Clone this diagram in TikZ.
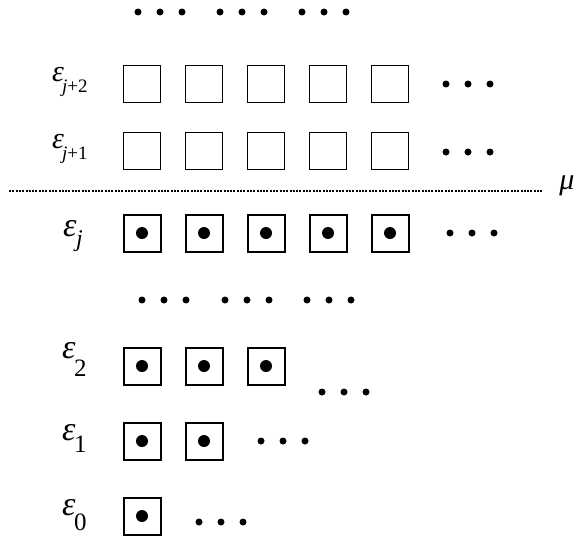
\documentclass[tikz,border=0pt]{standalone}
\usepackage{fontspec}
\setmainfont{Liberation Serif}
\usetikzlibrary{positioning}
% etiqueta de nivel: tam. eps, tam. subindice, desplazamiento, bajada, subindice
\newcommand{\etqniv}[5]{\rlap{\fontsize{#1}{#1}\selectfont\itshape ε}\hspace*{#3}\raisebox{-#4}{\fontsize{#2}{#2}\selectfont #5}}
\tikzset{
  celda/.style={draw=black,line width=1.4pt,minimum width=37pt,minimum height=37pt,inner sep=0pt},
  celdal/.style={celda,line width=2pt},
  etq/.style={inner sep=0pt,anchor=base west},
  punto/.style={fill=black},
  nivel/.style={line width=1.2pt,dash pattern=on 2pt off 1.3pt},
}
\begin{document}
\begin{tikzpicture}[x=1pt,y=-1pt]
\useasboundingbox (0,0) rectangle (583,536);

% niveles vacios
\node[etq] (ej2) at (52,81)  {\etqniv{30pt}{19pt}{10pt}{11pt}{\textit{j}+2}};
\node[etq] (ej1) at (52,148) {\etqniv{30pt}{19pt}{10pt}{11pt}{\textit{j}+1}};
\foreach \i/\x in {1/142,2/204,3/266,4/328,5/390}{
  \node[celda] (a\i) at (\x,84)  {};
  \node[celda] (b\i) at (\x,151) {};
}

% nivel de Fermi
\coordinate (mi) at (9,191);
\node[inner sep=0pt,font=\fontsize{30pt}{30pt}\selectfont\itshape] (mu) at (567,186) {μ};
\draw[nivel] (mi) -- (mi -| 542,0);

% niveles ocupados
\node[etq] (ej) at (63,236)  {\etqniv{34pt}{24pt}{13pt}{10pt}{\textit{j}}};
\node[etq] (e2) at (62,358)  {\etqniv{34pt}{25pt}{12pt}{18pt}{2}};
\node[etq] (e1) at (62,440)  {\etqniv{34pt}{25pt}{12pt}{12pt}{1}};
\node[etq] (e0) at (62,515)  {\etqniv{34pt}{25pt}{12pt}{15pt}{0}};
\foreach \i/\x in {1/142,2/204,3/266,4/328,5/390}{
  \node[celdal] (c\i) at (\x,233) {};
  \fill (c\i) circle (6pt);
}
\foreach \i/\x in {1/142,2/204,3/266}{
  \node[celdal] (d\i) at (\x,366) {};
  \fill (d\i) circle (6pt);
}
\foreach \i/\x in {1/142,2/204}{
  \node[celdal] (f\i) at (\x,441) {};
  \fill (f\i) circle (6pt);
}
\node[celdal] (g1) at (142,516) {};
\fill (g1) circle (6pt);

% puntos suspensivos
\foreach \x/\y in {138/12,220/12,302/12,142/300,225/300,307/300,
                   446/84,446/152,450/233,322/392,261/441,199/522}{
  \foreach \k in {0,1,2}
    \fill[punto] (\x+\k*22,\y) circle (3.5pt);
}

\end{tikzpicture}
\end{document}
